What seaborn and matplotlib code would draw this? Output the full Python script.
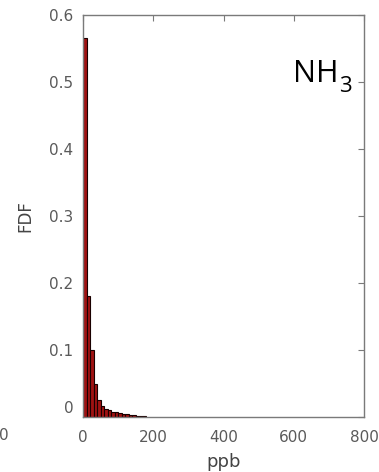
import matplotlib
matplotlib.use("Agg")
import matplotlib.pyplot as plt
import matplotlib.transforms as mtransforms
import seaborn as sns
import numpy as np
import pandas as pd

# Data: bin centres (ppb) and frequency density values
bin_centers = [5, 15, 25, 35, 45, 55, 65, 75, 85, 95, 105, 115, 125, 135, 145, 155, 165, 175]
fdf_values = [0.565, 0.18, 0.10, 0.05, 0.025, 0.016, 0.012, 0.010, 0.008, 0.007,
              0.006, 0.005, 0.004, 0.003, 0.003, 0.002, 0.001, 0.001]
bin_edges = list(range(0, 190, 10))
x_ticks = [0, 200, 400, 600, 800]
y_ticks = [0, 0.1, 0.2, 0.3, 0.4, 0.5, 0.6]
y_tick_labels = ["0", "0.1", "0.2", "0.3", "0.4", "0.5", "0.6"]

sns.set_theme(style="white")
plt.rcParams['font.family'] = ['DejaVu Sans']

df = pd.DataFrame({"ppb": bin_centers, "fdf": fdf_values})

W, H = 379, 472
fig = plt.figure(figsize=(W / 100, H / 100), dpi=100)
ax = fig.add_axes([83 / W, 1 - 417 / H, (364 - 83) / W, (417 - 15) / H])

sns.histplot(data=df, x="ppb", weights="fdf", bins=bin_edges, stat="count",
             color="#a01212", edgecolor="#1a0000", linewidth=0.8, alpha=1.0, ax=ax)

ax.set_xlim(0, 800)
ax.set_ylim(0, 0.6)
ax.set_xticks(x_ticks)
ax.set_xticklabels([str(t) for t in x_ticks])
ax.set_yticks(y_ticks)
ax.set_yticklabels(y_tick_labels)

grey = "#5a5a5a"
for sp in ax.spines.values():
    sp.set_visible(True)
    sp.set_color("#7a7a7a")
    sp.set_linewidth(1.0)

ax.tick_params(axis="both", direction="in", length=4, width=0.8, colors="#7a7a7a",
               labelcolor=grey, labelsize=11, top=True, right=True)
ax.tick_params(axis="x", pad=9)
ax.tick_params(axis="y", pad=7)

# MATLAB-style: the y "0" label sits a little above the axis bottom
ylab0 = ax.get_yticklabels()[0]
ylab0.set_transform(ylab0.get_transform() +
                    mtransforms.ScaledTranslation(0, 10 / 100, fig.dpi_scale_trans))

ax.set_xlabel("")
ax.set_ylabel("")
fig.text(224 / W, 1 - 462 / H, "ppb", ha="center", va="center", fontsize=13, color="#444444")
fig.text(25 / W, 1 - 216 / H, "FDF", ha="center", va="center", rotation=90,
         fontsize=12, color="#444444")

# NH3 label, subscript drawn as a separate, lowered text
nh = fig.text(293 / W, 1 - 82 / H, "NH", ha="left", va="baseline",
              fontsize=22, color="black", family=["Open Sans", "DejaVu Sans"])
fig.canvas.draw()
bb = nh.get_window_extent(renderer=fig.canvas.get_renderer())
fig.text(bb.x1 / W + 1 / W, 1 - 92 / H, "3", ha="left", va="baseline",
         fontsize=16, color="black", family=["Open Sans", "DejaVu Sans"])

# fragment of a neighbouring panel's tick label at far left
fig.text(4 / W, 1 - 436 / H, "0", ha="center", va="center", fontsize=11, color=grey)

fig.savefig("out.png", dpi=100)
